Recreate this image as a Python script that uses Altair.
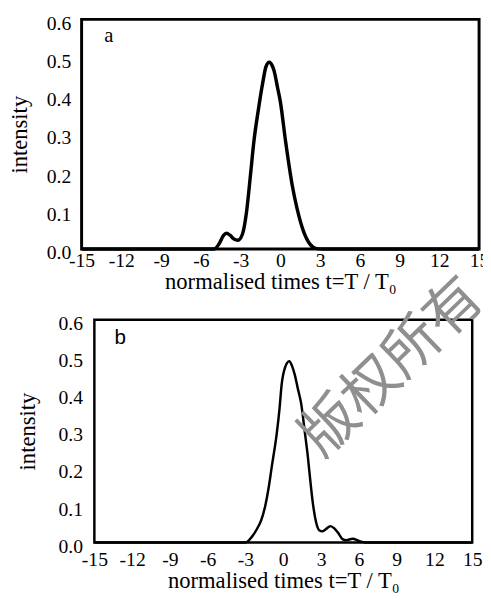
import altair as alt
import pandas as pd

# ---- data ----
t_a = [-15, -6.5, -5.0, -4.6, -4.3, -4.05, -3.8, -3.5, -3.2, -2.85, -2.57, -2.25,
       -2.0, -1.65, -1.33, -1.09, -0.84, -0.6, -0.47, -0.2, 0.0, 0.4, 0.9, 1.26,
       1.75, 2.25, 2.74, 3.2, 15]
i_a = [0, 0, 0, 0.015, 0.035, 0.041, 0.036, 0.026, 0.023, 0.04, 0.092, 0.195,
       0.28, 0.366, 0.434, 0.476, 0.488, 0.478, 0.465, 0.42, 0.385, 0.28, 0.166, 0.106,
       0.046, 0.012, 0.001, 0, 0]

t_b = [-15, -3.0, -2.5, -2.08, -1.75, -1.43, -1.15, -0.91, -0.52, -0.3, -0.13, 0.13,
       0.47, 0.7, 0.91, 1.15, 1.43, 1.7, 1.95, 2.15, 2.34, 2.6, 2.85, 3.1, 3.35,
       3.75, 4.05, 4.35, 4.7, 5.0, 5.5, 6.0, 6.5, 15]
i_b = [0, 0, 0.015, 0.037, 0.06, 0.099, 0.15, 0.205, 0.293, 0.36, 0.425, 0.47,
       0.488, 0.475, 0.452, 0.415, 0.372, 0.30, 0.231, 0.165, 0.108, 0.055, 0.033, 0.03, 0.035,
       0.044, 0.038, 0.026, 0.009, 0.006, 0.01, 0.004, 0, 0]

x_ticks = [-15, -12, -9, -6, -3, 0, 3, 6, 9, 12, 15]
y_ticks = [0.0, 0.1, 0.2, 0.3, 0.4, 0.5, 0.6]

panel_labels = ["a", "b"]
label_pos = [(-13.3, 0.556), (-13.4, 0.549)]
watermark = "版权所有"
watermark_pos = (8.7, 0.47)

x_title = "normalised times t=T / T₀"
y_title = "intensity"
SERIF = "Liberation Serif"


def panel(t, i, w, h, x_range, stroke_w, frame_w, label, lpos, lfont,
          ylab_pad, ytitle_pad, y_offset, x_lab_pad, x_title_pad, wm=None):
    xscale = alt.Scale(domain=[x_ticks[0], x_ticks[-1]], nice=False, range=x_range)
    yscale = alt.Scale(domain=[y_ticks[0], y_ticks[-1]], nice=False)
    xaxis = alt.Axis(values=x_ticks, title=x_title, labelExpr="'' + datum.value",
                     ticks=False, grid=False, domain=False, labelOverlap=False,
                     labelFlush=False, labelPadding=x_lab_pad, titlePadding=x_title_pad)
    yaxis = alt.Axis(values=y_ticks, title=y_title, format=".1f", labelOffset=4,
                     ticks=False, grid=False, domain=False, labelOverlap=False,
                     labelFlush=False, labelPadding=ylab_pad, titlePadding=ytitle_pad,
                     offset=y_offset)

    def enc(ch):
        return ch.encode(x=alt.X("t:Q", scale=xscale, axis=xaxis),
                         y=alt.Y("i:Q", scale=yscale, axis=yaxis))

    df = pd.DataFrame({"t": t, "i": i})
    line = enc(alt.Chart(df).mark_line(color="black", strokeWidth=stroke_w,
                                       interpolate="monotone"))
    fdf = pd.DataFrame({"t": [x_ticks[0]], "t2": [x_ticks[-1]],
                        "i": [y_ticks[0]], "i2": [y_ticks[-1]]})
    frame = enc(alt.Chart(fdf).mark_rect(filled=False, stroke="black",
                                         strokeWidth=frame_w)).encode(x2="t2:Q", y2="i2:Q")
    ldf = pd.DataFrame({"t": [lpos[0]], "i": [lpos[1]], "s": [label]})
    lab = enc(alt.Chart(ldf).mark_text(font=lfont, fontSize=21, color="black",
                                       align="left", baseline="middle")).encode(text="s:N")
    layers = [line, frame, lab]
    if wm is not None:
        wdf = pd.DataFrame({"t": [wm[1][0]], "i": [wm[1][1]], "s": [wm[0]]})
        layers.append(enc(alt.Chart(wdf).mark_text(
            font="Noto Sans CJK SC", fontSize=58, color="#8f8f8f", angle=316,
            align="center", baseline="middle")).encode(text="s:N"))
    return alt.layer(*layers).properties(width=w, height=h)


pa = panel(t_a, i_a, 405, 234, [0, 405], 3.5, 3, panel_labels[0], label_pos[0], SERIF,
           11, 15, 0, 2, 0)
pb = panel(t_b, i_b, 398, 227, [13, 398], 2.5, 2.5, panel_labels[1], label_pos[1],
           "Liberation Sans", 12, 19, -13, 7, 1, wm=(watermark, watermark_pos))

chart = alt.vconcat(pa, pb, spacing=72, bounds="flush").configure(
    padding={"left": 1, "top": 0, "right": -12, "bottom": -1}
).configure_view(
    stroke=None
).configure_axis(
    labelFont=SERIF, titleFont=SERIF, labelFontSize=20, titleFontSize=23,
    titleFontWeight="normal", labelColor="black", titleColor="black"
)

chart.save("out.html", embed_options={"renderer": "svg", "actions": False})
